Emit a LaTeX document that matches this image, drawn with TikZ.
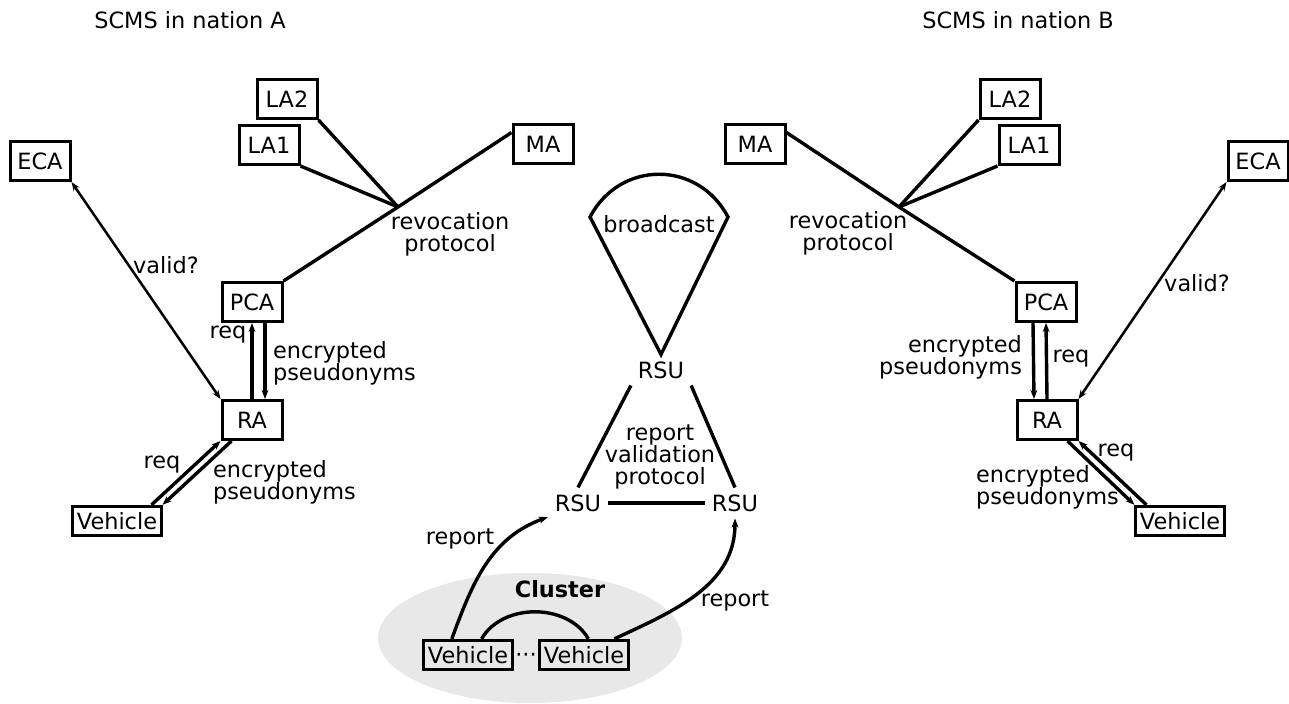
\documentclass[tikz,border=0pt]{standalone}
\usepackage{fontspec}
\setmainfont{DejaVu Sans}
\usetikzlibrary{arrows.meta}

\tikzset{
	authority/.style={draw, line width=1.5pt, minimum width=30pt, minimum height=19.5pt, inner sep=1.5pt},
	carbox/.style={draw, line width=1.5pt, inner xsep=2pt, inner ysep=3pt},
	link/.style={line width=1.7pt},
	msg/.style={line width=1.7pt, ->},
	query/.style={line width=1.25pt, <->},
}

\begin{document}
\begin{tikzpicture}[x=0.5pt, y=-0.5pt, >={Stealth[length=4.5pt,width=3.4pt]}, font=\fontsize{11.2}{11}\selectfont]
		\useasboundingbox (0,0) rectangle (1289,704);
		
		%nation A
		\node (titleA) at (190, 20){SCMS in nation A};
		\node[authority] (ecaA) at (40, 161){ECA};
		\node[authority] (la2A) at (287, 99){LA2};
		\node[authority] (la1A) at (269, 145){LA1};
		\node[authority] (maA) at (543, 144){MA};
		\node[authority] (pcaA) at (252, 302){PCA};
		\node[authority] (raA) at (252, 420){RA};
		\node[carbox] (vehA) at (117, 521){Vehicle};
		\coordinate (revA) at (398, 207);
		
		\draw[link] (pcaA.north east) -- (revA) -- (maA.160);
		\draw[link] (la1A.south east) -- (revA);
		\draw[link] (la2A.south east) -- (revA);
		\node[align=center] (revlabA) at (450, 234){revocation\\protocol};
		
		\draw[query] (ecaA.south east) -- (raA.north west);
		\node (validA) at (166, 265){valid?};
		
		\draw[msg] (raA.north) -- (pcaA.south);
		\draw[msg] ([xshift=6.5pt]pcaA.south) -- ([xshift=6.5pt]raA.north);
		\node (reqA1) at (228, 335){req};
		\node[anchor=west, align=left] (encA1) at (266, 363){encrypted\\pseudonyms};
		
		\draw[msg] ([xshift=-5.5pt]vehA.north east) -- (raA.south west);
		\draw[msg] ([xshift=5.5pt]raA.south west) -- (vehA.north east);
		\node (reqA2) at (162, 465){req};
		\node[anchor=west, align=left] (encA2) at (206, 482){encrypted\\pseudonyms};
		
		%nation B
		\node (titleB) at (1018, 20){SCMS in nation B};
		\node[authority] (maB) at (755, 144){MA};
		\node[authority] (la2B) at (1010, 99){LA2};
		\node[authority] (la1B) at (1029, 145){LA1};
		\node[authority] (ecaB) at (1258, 161){ECA};
		\node[authority] (pcaB) at (1046, 302){PCA};
		\node[authority] (raB) at (1047, 420){RA};
		\node[carbox] (vehB) at (1180, 521){Vehicle};
		\coordinate (revB) at (899, 207);
		
		\draw[link] (pcaB.north west) -- (revB) -- (maB.20);
		\draw[link] (la1B.south west) -- (revB);
		\draw[link] (la2B.south west) -- (revB);
		\node[align=center] (revlabB) at (848, 233){revocation\\protocol};
		
		\draw[query] (ecaB.south west) -- (raB.north east);
		\node (validB) at (1197, 283){valid?};
		
		\draw[msg] (raB.north) -- (pcaB.south);
		\draw[msg] ([xshift=-6.5pt]pcaB.south) -- ([xshift=-6.5pt]raB.north);
		\node (reqB1) at (1071, 359){req};
		\node[anchor=east, align=right] (encB1) at (1029, 357){encrypted\\pseudonyms};
		
		\draw[msg] ([xshift=6pt]vehB.north west) -- (raB.south east);
		\draw[msg] ([xshift=-5.5pt]raB.south east) -- (vehB.north west);
		\node (reqB2) at (1116, 453){req};
		\node[anchor=west, align=left] (encB2) at (969, 487){encrypted\\pseudonyms};
		
		%roadside units and cluster
		\fill[gray!18] (530, 638) ellipse [x radius=152, y radius=65];
		\node[font=\fontsize{11.2}{11}\selectfont\bfseries] (clusterlab) at (560, 589){Cluster};
		\node[carbox] (vL) at (468, 655){Vehicle};
		\node[carbox] (vR) at (584, 655){Vehicle};
		\node[inner sep=0pt] (dots) at (526, 658){···};
		\draw[link] (vL.50) to[out=60, in=120] (vR.75);
		
		\node (rsuT) at (661, 370){RSU};
		\node (rsuL) at (578, 503){RSU};
		\node (rsuR) at (735, 503){RSU};
		\draw[link] (rsuT.north) -- (590, 217) .. controls (620, 160) and (698, 160) .. (728, 217) -- cycle;
		\node (bcast) at (659, 224){broadcast};
		
		\draw[link] (rsuT.south west) -- (rsuL.north);
		\draw[link] (rsuT.south east) -- (rsuR.north);
		\draw[link] (rsuL.east) -- (rsuR.west);
		\node[align=center] (rvplab) at (660, 457){report\\validation\\protocol};
		
		\draw[msg] (vL.135) to[out=70, in=200] (rsuL.205);
		\draw[msg] (vR.28) to[out=25, in=270] (rsuR.south);
		\node (reportL) at (460, 539){report};
		\node (reportR) at (735, 601){report};
		\end{tikzpicture}
\end{document}
